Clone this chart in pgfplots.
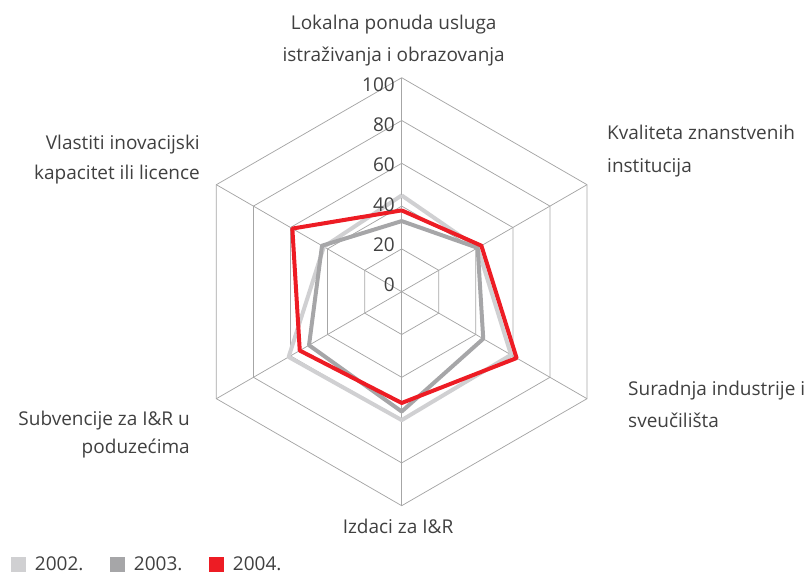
\documentclass[border=0pt]{standalone}
\usepackage{pgfplots}
\pgfplotsset{compat=1.18}
\usepgfplotslibrary{polar}
\usepackage{fontspec}
\setmainfont{Open Sans}
\definecolor{c2002}{HTML}{D0D0D2}
\definecolor{c2003}{HTML}{A6A6A8}
\definecolor{c2004}{HTML}{ED1C24}
\definecolor{gridc}{HTML}{A6A6A6}
\definecolor{txt}{HTML}{404040}
\newcommand{\lf}{\fontsize{19bp}{23bp}\selectfont}
\begin{document}
\begin{tikzpicture}
\useasboundingbox (-401.7bp,-282.3bp) rectangle (405.3bp,291.7bp);
\begin{polaraxis}[
  at={(0,0)}, anchor=center, scale only axis, width=428bp, height=428bp,
  hide axis, ymin=0, ymax=100, xmin=0, xmax=360, clip=false,
  legend columns=3,
  legend style={at={(axis description cs:-0.413,-0.1596)}, anchor=south west,
    draw=none, fill=none, inner sep=0pt, outer sep=0pt, font=\lf, text=txt,
    /tikz/every even column/.style={column sep=24.5bp}},
  legend image code/.code={\fill[#1, draw=none] (0bp,-7.5bp) rectangle (15bp,7.5bp); \path[draw=none,fill=none] (15bp,0bp) -- (22bp,0bp);},
]
% grid
\addplot[gridc, line width=0.75bp, forget plot] coordinates {(90,20)(30,20)(330,20)(270,20)(210,20)(150,20)(90,20)};
\addplot[gridc, line width=0.75bp, forget plot] coordinates {(90,40)(30,40)(330,40)(270,40)(210,40)(150,40)(90,40)};
\addplot[gridc, line width=0.75bp, forget plot] coordinates {(90,60)(30,60)(330,60)(270,60)(210,60)(150,60)(90,60)};
\addplot[gridc, line width=0.75bp, forget plot] coordinates {(90,80)(30,80)(330,80)(270,80)(210,80)(150,80)(90,80)};
\addplot[gridc, line width=0.75bp, forget plot] coordinates {(90,100)(30,100)(330,100)(270,100)(210,100)(150,100)(90,100)};
\addplot[gridc, line width=0.75bp, forget plot] coordinates {(90,0)(90,100)};
\addplot[gridc, line width=0.75bp, forget plot] coordinates {(30,0)(30,100)};
\addplot[gridc, line width=0.75bp, forget plot] coordinates {(330,0)(330,100)};
\addplot[gridc, line width=0.75bp, forget plot] coordinates {(270,0)(270,100)};
\addplot[gridc, line width=0.75bp, forget plot] coordinates {(210,0)(210,100)};
\addplot[gridc, line width=0.75bp, forget plot] coordinates {(150,0)(150,100)};
% data
\addplot[color=c2002, line width=4bp, line join=round, no markers] coordinates {(90,45)(30,41)(330,59)(270,60)(210,61)(150,42)(90,45)};
\addlegendentry{2002.}
\addplot[color=c2003, line width=4bp, line join=round, no markers] coordinates {(90,33)(30,41)(330,44)(270,56)(210,50)(150,43)(90,33)};
\addlegendentry{2003.}
\addplot[color=c2004, line width=4bp, line join=round, no markers] coordinates {(90,38)(30,43)(330,62)(270,52)(210,55)(150,59)(90,38)};
\addlegendentry{2004.}
\end{polaraxis}
% tick labels
\begin{scope}[every node/.style={anchor=east, inner sep=0pt, font=\lf, text=txt}]
\node at (-6.7bp,206.7bp) {100};
\node at (-6.7bp,166.7bp) {80};
\node at (-6.7bp,126.7bp) {60};
\node at (-6.7bp,86.7bp) {40};
\node at (-6.7bp,46.7bp) {20};
\node at (-6.7bp,6.7bp) {0};
\end{scope}
% category labels
\begin{scope}[every node/.style={inner sep=0pt, font=\lf, text=txt}]
\node[anchor=base] at (-8bp,261.7bp) {Lokalna ponuda usluga};
\node[anchor=base] at (-8bp,229.7bp) {istraživanja i obrazovanja};
\node[anchor=base west] at (205.3bp,151.7bp) {Kvaliteta znanstvenih};
\node[anchor=base west] at (205.3bp,118.7bp) {institucija};
\node[anchor=base west] at (226.3bp,-103.3bp) {Suradnja industrije i};
\node[anchor=base west] at (226.3bp,-135.3bp) {sveučilišta};
\node[anchor=base] at (-3.7bp,-241.3bp) {Izdaci za I\&R};
\node[anchor=base east] at (-211.7bp,-133.3bp) {Subvencije za I\&R u};
\node[anchor=base east] at (-211.7bp,-161.3bp) {poduzećima};
\node[anchor=base east] at (-201.7bp,141.7bp) {Vlastiti inovacijski};
\node[anchor=base east] at (-201.7bp,111.7bp) {kapacitet ili licence};
\end{scope}
\end{tikzpicture}
\end{document}
